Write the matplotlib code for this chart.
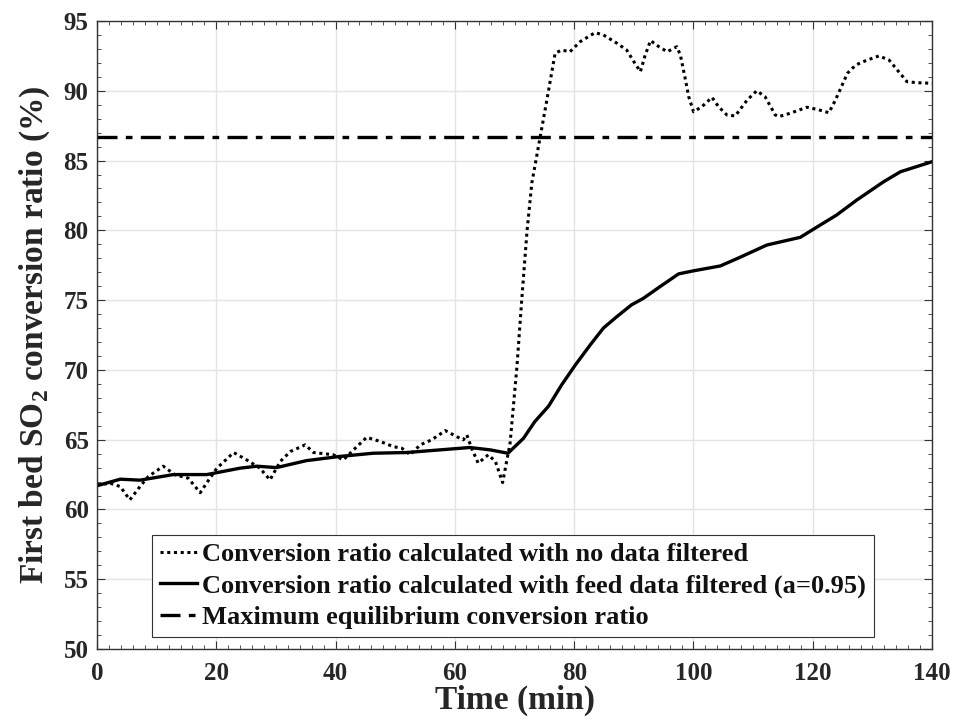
import numpy as np
import matplotlib
matplotlib.use("Agg")
import matplotlib.pyplot as plt
from matplotlib.ticker import MultipleLocator

plt.rcParams['font.family'] = 'Liberation Serif'
plt.rcParams['font.weight'] = 'bold'
plt.rcParams['mathtext.fontset'] = 'custom'
plt.rcParams['mathtext.rm'] = 'Liberation Serif:bold'
plt.rcParams['mathtext.bf'] = 'Liberation Serif:bold'

# conversion ratio, no filtering
t_raw = [0, 2.2, 3.9, 5.5, 7.2, 8.6, 11.1, 13.1, 15.3, 17.3, 18.7, 20.1, 22.9, 25.1,
         27.3, 29.0, 30.7, 32.4, 34.9, 36.3, 39.6, 41.3, 43.0, 45.2, 47.5, 49.7, 51.1,
         52.5, 54.2, 56.1, 58.4, 60.3, 61.4, 62.0, 62.8, 63.9, 65.6, 66.8, 68.0, 69.25,
         70.4, 71.2, 72.1, 72.9, 74.3, 75.4, 76.8, 77.9, 79.3, 81.0, 83.5, 84.9, 87.2,
         88.8, 90.0, 91.1, 91.9, 92.8, 94.2, 95.6, 97.2, 97.8, 98.6, 99.2, 100.0, 101.4,
         103.1, 104.2, 105.6, 107.0, 109.0, 110.6, 112.0, 113.7, 114.3, 116.2, 119.0,
         120.7, 122.7, 123.8, 125.8, 127.2, 129.1, 131.1, 132.8, 134.4, 135.8, 137.5, 140]
conv_raw = [61.76, 61.88, 61.64, 60.69, 61.64, 62.36, 63.1, 62.48, 62.24, 61.2, 62.1,
            62.96, 64.08, 63.55, 62.96, 62.12, 63.43, 64.15, 64.63, 64.08, 63.92, 63.55,
            64.27, 65.17, 64.87, 64.5, 64.39, 63.92, 64.63, 64.99, 65.65, 65.22, 64.99,
            65.34, 64.39, 63.32, 63.92, 63.43, 61.93, 64.75, 70.24, 75.0, 80.0, 83.4,
            86.7, 89.3, 92.69, 92.92, 92.8, 93.52, 94.17, 94.0, 93.4, 92.92, 92.09, 91.37,
            92.56, 93.6, 93.16, 92.8, 93.16, 92.56, 90.9, 89.58, 88.5, 88.86, 89.53,
            88.86, 88.27, 88.2, 89.34, 90.0, 89.58, 88.27, 88.15, 88.39, 88.82, 88.67,
            88.43, 89.34, 91.25, 91.85, 92.2, 92.5, 92.2, 91.37, 90.65, 90.58, 90.54]

# conversion ratio with feed data filtered (a=0.95)
t_filt = [0, 3.9, 7.2, 12.8, 18.4, 24.0, 26.8, 30.1, 35.1, 40.7, 46.3, 51.9, 57.5, 62.5,
          65.9, 68.9, 71.5, 73.4, 75.7, 77.9, 80.2, 82.7, 84.9, 87.1, 89.6, 91.6, 94.4,
          97.5, 100.0, 104.5, 107.8, 112.3, 117.9, 120.1, 124.0, 127.4, 131.9, 134.7, 140]
conv_filt = [61.7, 62.17, 62.1, 62.5, 62.5, 62.96, 63.1, 63.0, 63.5, 63.8, 64.03, 64.08,
             64.27, 64.44, 64.27, 64.03, 65.1, 66.3, 67.4, 68.93, 70.36, 71.8, 73.0,
             73.8, 74.66, 75.13, 75.97, 76.88, 77.1, 77.45, 78.07, 78.95, 79.5, 80.08,
             81.1, 82.18, 83.49, 84.2, 84.92]

max_eq = 86.7

fig = plt.figure(figsize=(9.55, 7.25), dpi=100)
ax = fig.add_axes([0.1016, 0.1048, 0.8744, 0.8662])

ax.plot(t_raw, conv_raw, color='black', linestyle=(0, (1, 1.2)), linewidth=2.2,
        label='Conversion ratio calculated with no data filtered')
ax.plot(t_filt, conv_filt, color='black', linestyle='-', linewidth=2.4,
        label='Conversion ratio calculated with feed data filtered (a=0.95)')
ax.plot([0, 140], [max_eq, max_eq], color='black', linestyle=(0, (6, 2.5, 2, 2.5)),
        linewidth=2.4, label='Maximum equilibrium conversion ratio')

ax.set_xlim(0, 140)
ax.set_ylim(50, 95)
ax.xaxis.set_major_locator(MultipleLocator(20))
ax.xaxis.set_minor_locator(MultipleLocator(2))
ax.yaxis.set_major_locator(MultipleLocator(5))
ax.yaxis.set_minor_locator(MultipleLocator(1))
ax.grid(True, which='major', color='#e3e3e3', linewidth=1)
ax.set_axisbelow(True)
ax.tick_params(which='both', direction='in', top=True, right=True, labelsize=18,
               color='#333333', labelcolor='#262626')
ax.tick_params(axis='x', which='major', pad=9)
ax.tick_params(axis='y', which='major', pad=6)
ax.tick_params(which='major', length=6)
ax.tick_params(which='minor', length=3)
for s in ax.spines.values():
    s.set_color('#333333')
    s.set_linewidth(1)

ax.set_xlabel('Time (min)', fontsize=24, fontweight='bold', labelpad=0,
              color='#262626')
ax.set_ylabel('First bed SO$_2$ conversion ratio (%)', fontsize=24,
              fontweight='bold', labelpad=8, color='#262626')

leg = ax.legend(loc='lower left', bbox_to_anchor=(0.066, 0.019), borderaxespad=0,
                fontsize=19, handlelength=1.4, handletextpad=0.2, labelspacing=0.3,
                borderpad=0.3, fancybox=False, framealpha=1, edgecolor='#333333')
leg.get_frame().set_linewidth(0.8)
for txt in leg.get_texts():
    txt.set_color('#111111')

fig.savefig('out.png', dpi=100)
